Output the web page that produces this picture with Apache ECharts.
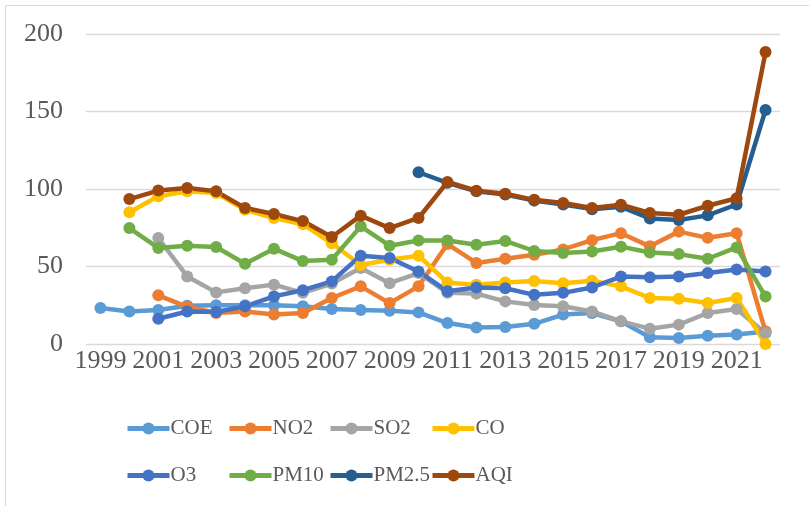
<!DOCTYPE html>
<html>
<head>
<meta charset="utf-8">
<script src="https://cdn.jsdelivr.net/npm/echarts@6/dist/echarts.min.js"></script>
<style>
  html, body { margin: 0; padding: 0; background: #fff; }
  #chart { width: 809px; height: 506px; }
</style>
</head>
<body>
<div id="chart"></div>
<script>
// years on the x axis
const years = ['1999','2000','2001','2002','2003','2004','2005','2006','2007','2008','2009','2010',
               '2011','2012','2013','2014','2015','2016','2017','2018','2019','2020','2021','2022'];

const coe  = [23.2, 21, 22, 24.7, 25, 25, 25, 24.3, 22.6, 22, 21.5, 20.4, 13.5, 10.7, 11, 13, 19, 20, 14.6, 4.3, 3.8, 5.3, 6.2, 8];
const no2  = [null, null, 31.4, 24, 20, 21, 19, 20, 29.7, 37.2, 26.4, 37.2, 64.5, 52.3, 55, 57.6, 61, 67, 71.5, 63, 72.5, 68.5, 71.5, 8];
const so2  = [null, null, 68.4, 43.6, 33.3, 36, 38.3, 33, 39, 49, 39.2, 45.8, 33, 32.5, 27.5, 25.2, 24.3, 21, 14.6, 9.9, 12.5, 20, 22.6, 7];
const co   = [null, 85, 95.3, 98.5, 97.4, 86.6, 81.3, 77.3, 65, 51, 54.4, 57, 39.6, 38.3, 39.7, 40.6, 39.2, 40.8, 37.2, 29.7, 29.2, 26.4, 29.7, 0];
const o3   = [null, null, 16.3, 21, 20.6, 24.3, 30.7, 34.7, 40.4, 57, 55.5, 46.8, 34, 36.5, 36, 31.7, 33, 36.5, 43.5, 43, 43.5, 45.8, 48, 46.8];
const pm10 = [null, 74.8, 62, 63.4, 62.6, 51.8, 61.5, 53.5, 54.4, 75.9, 63.4, 66.8, 66.8, 64, 66.5, 60, 58.7, 59.7, 62.8, 59, 58, 55, 62.3, 30.6];
const pm25 = [null, null, null, null, null, null, null, null, null, null, null, 110.8,
              104, 98.5, 96.5, 92.5, 90, 87, 88.5, 81, 80, 83, 90, 151];
const aqi  = [null, 93.5, 99, 100.6, 98.5, 87.7, 83.9, 79.3, 69, 82.8, 74.8, 81.3, 104.5, 98.9, 96.9, 93, 91, 87.7, 89.9, 84.5, 83.4, 89.2, 94, 188.4];

const names  = ['COE', 'NO2', 'SO2', 'CO', 'O3', 'PM10', 'PM2.5', 'AQI'];
const values = [coe, no2, so2, co, o3, pm10, pm25, aqi];
const colors = ['#5B9BD5', '#ED7D31', '#A5A5A5', '#FFC000', '#4472C4', '#70AD47', '#255E91', '#9E480E'];

const font = '"Liberation Serif", "Times New Roman", serif';

let chart = echarts.init(document.getElementById('chart'));

// Excel style legend: 4 fixed columns, 2 rows
const legendX = [125, 227, 328, 430];
const legendY = [418, 465];
let legends = names.map((n, i) => ({
    data: [n],
    left: legendX[i % 4],
    top: legendY[Math.floor(i / 4)],
    itemWidth: 42,
    itemHeight: 15,
    itemGap: 0,
    padding: 0,
    lineStyle: { width: 5 },
    textStyle: { fontFamily: font, fontSize: 21, color: '#595959', padding: [0, 0, 0, -4] }
}));

let option = {
    animation: false,
    color: colors,
    graphic: [{
        type: 'rect',
        shape: { x: 5.5, y: 5.5, width: 820, height: 520 },
        style: { fill: 'none', stroke: '#d9d9d9', lineWidth: 1 },
        silent: true
    }],
    legend: legends,
    grid: { left: 86, right: 29, top: 34, bottom: 162 },
    xAxis: {
        type: 'category',
        data: years,
        boundaryGap: true,
        axisLine: { show: false },
        axisTick: { show: false },
        axisLabel: { interval: 1, fontFamily: font, fontSize: 26, color: '#595959', margin: 4 }
    },
    yAxis: {
        type: 'value',
        min: 0,
        max: 200,
        interval: 50,
        axisLine: { show: false },
        axisTick: { show: false },
        splitLine: { lineStyle: { color: '#d9d9d9', width: 1.3 } },
        axisLabel: { fontFamily: font, fontSize: 26, color: '#595959', margin: 23 }
    },
    series: names.map((n, i) => ({
        name: n,
        type: 'line',
        data: values[i],
        symbol: 'circle',
        symbolSize: 12,
        connectNulls: false,
        lineStyle: { width: 4.5 },
        itemStyle: { color: colors[i] }
    }))
};

chart.setOption(option);
</script>
</body>
</html>
